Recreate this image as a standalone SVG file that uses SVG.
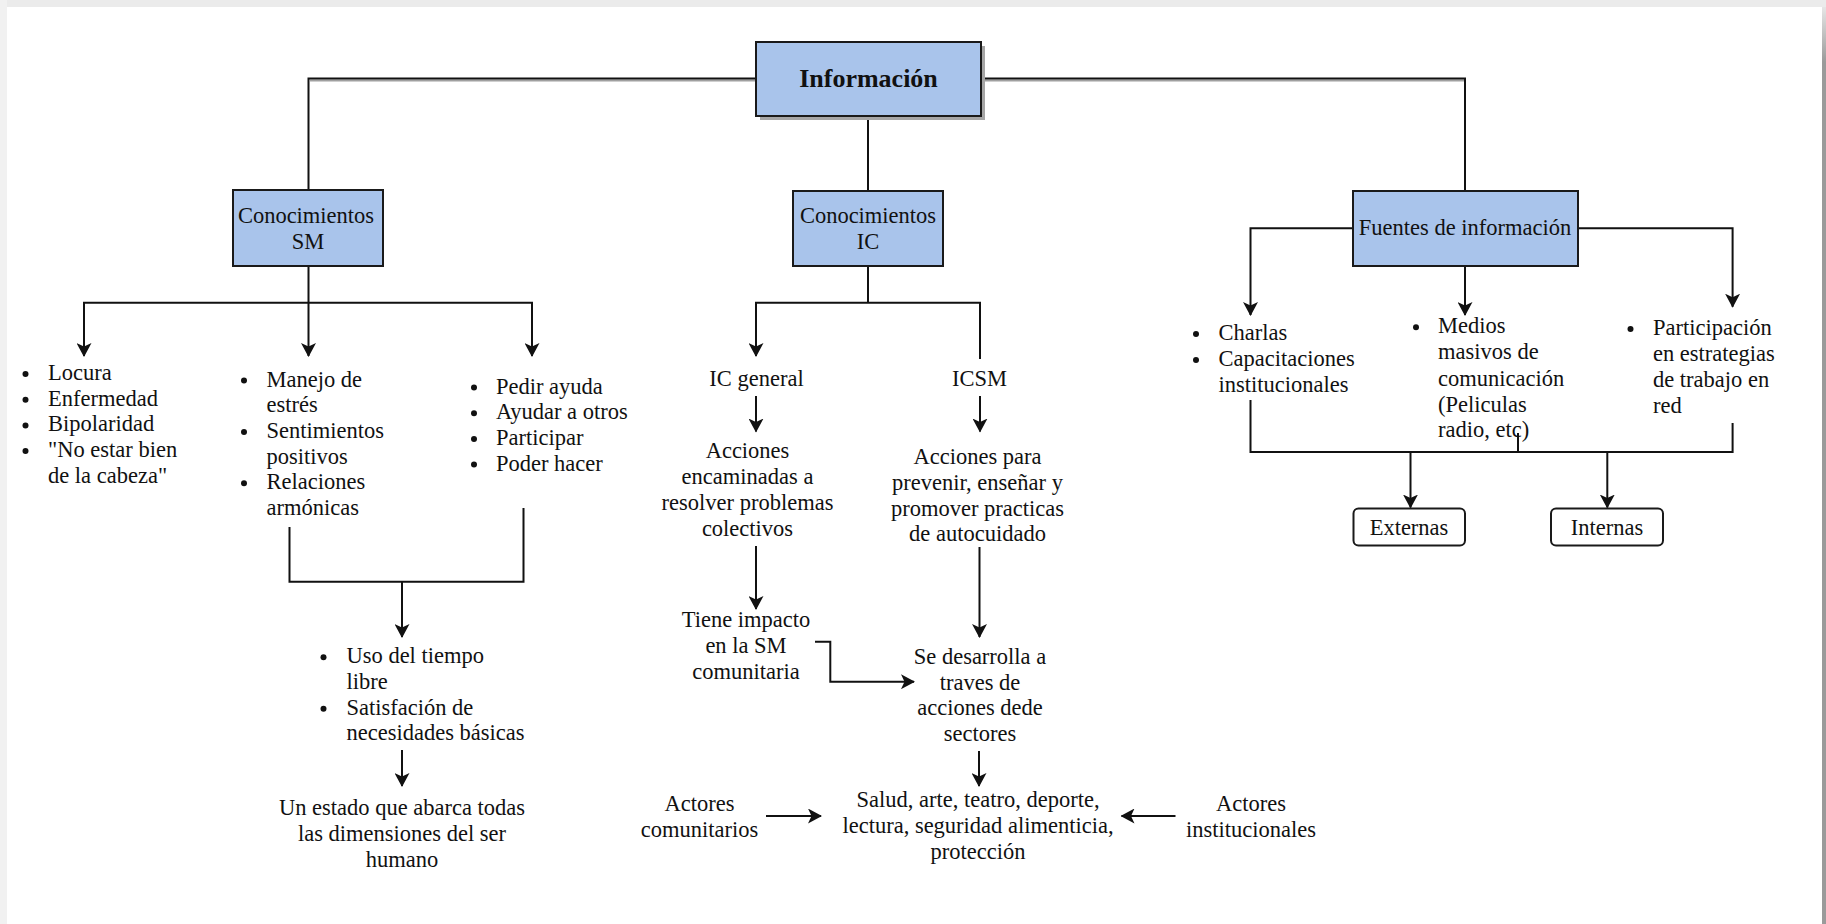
<svg xmlns="http://www.w3.org/2000/svg" width="1826" height="924" viewBox="0 0 1826 924">
  <defs>
    <style>
      .t { font-family: "Liberation Serif", "Times New Roman", serif; font-size: 22.5px; fill: #111; }
      .c { text-anchor: middle; }
      .box { fill: #a9c4eb; stroke: #1a1a1a; stroke-width: 2; }
      .leaf { fill: #fff; stroke: #1a1a1a; stroke-width: 2; }
      .ln { fill: none; stroke: #111; stroke-width: 2; }
      .arr { marker-end: url(#ah); }
      .dot { fill: #111; }
    </style>
    <marker id="ah" viewBox="0 0 14 15" refX="13" refY="7.5" markerWidth="14" markerHeight="15" markerUnits="userSpaceOnUse" orient="auto">
      <path d="M0,0 L14,7.5 L0,15 L3.5,7.5 z" fill="#111"/>
    </marker>
    <linearGradient id="edge" x1="0" y1="0" x2="0" y2="1">
      <stop offset="0" stop-color="#e6e6e6"/>
      <stop offset="0.06" stop-color="#9a9a9a"/>
      <stop offset="1" stop-color="#9a9a9a"/>
    </linearGradient>
  </defs>

  <!-- page -->
  <rect x="0" y="0" width="1826" height="924" fill="#fff"/>
  <rect x="0" y="0" width="1826" height="7" fill="#ebebeb"/>
  <rect x="0" y="0" width="7" height="924" fill="#f1f1f1"/>
  <rect x="1822" y="7" width="4" height="917" fill="url(#edge)"/>

  <!-- connectors -->
  <g id="connectors">
    <!-- from Información -->
    <path d="M310,80.5 H756 M983,80.5 H1465" stroke="#a0a0a0" stroke-width="2" fill="none"/>
    <path class="ln" d="M756,78.5 H308.5 V190"/>
    <path class="ln" d="M981,78.5 H1465 V191"/>
    <path class="ln" d="M868,116 V191"/>

    <!-- Conocimientos SM -->
    <path class="ln arr" d="M308.5,266 V356"/>
    <path class="ln arr" d="M308.5,302.7 H84 V356"/>
    <path class="ln arr" d="M308.5,302.7 H532 V356"/>
    <path class="ln" d="M289.5,527 V581.7 H523.5 V508"/>
    <path class="ln arr" d="M402,581.7 V637"/>
    <path class="ln arr" d="M402,750 V786"/>

    <!-- Conocimientos IC -->
    <path class="ln" d="M868,266 V302.7"/>
    <path class="ln arr" d="M868,302.7 H756 V356"/>
    <path class="ln" d="M868,302.7 H980 V359"/>
    <path class="ln arr" d="M756,396 V431.5"/>
    <path class="ln arr" d="M980,396 V431.5"/>
    <path class="ln arr" d="M756,546 V609"/>
    <path class="ln arr" d="M979.5,547 V637"/>
    <path class="ln arr" d="M815,641.7 H830.3 V681.7 H914"/>
    <path class="ln arr" d="M979,751 V786"/>
    <path class="ln arr" d="M766,816 H821"/>
    <path class="ln arr" d="M1175.5,816 H1121.5"/>

    <!-- Fuentes de información -->
    <path class="ln arr" d="M1353,228.3 H1250.5 V315"/>
    <path class="ln arr" d="M1465,266 V315"/>
    <path class="ln arr" d="M1578,228.3 H1732.6 V306.7"/>
    <path class="ln" d="M1250.5,400 V452 H1732.6 V423"/>
    <path class="ln" d="M1518,433 V452"/>
    <path class="ln arr" d="M1410.5,452 V507.5"/>
    <path class="ln arr" d="M1607.3,452 V507.5"/>
  </g>

  <!-- root -->
  <g id="informacion">
    <rect x="760" y="46" width="225" height="74" fill="#a6a6a6"/>
    <rect class="box" x="756" y="42" width="225" height="74"/>
    <text class="t c" x="868.5" y="87" style="font-weight:bold;font-size:26px">Información</text>
  </g>

  <!-- Conocimientos SM branch -->
  <g id="conocimientos-sm">
    <rect class="box" x="233" y="190" width="150" height="76"/>
    <text class="t c" x="306" y="223">Conocimientos</text>
    <text class="t c" x="308" y="249">SM</text>
  </g>

  <g id="sm-lista-1">
    <circle class="dot" cx="25.5" cy="374" r="3"/>
    <circle class="dot" cx="25.5" cy="399.7" r="3"/>
    <circle class="dot" cx="25.5" cy="425.4" r="3"/>
    <circle class="dot" cx="25.5" cy="451.1" r="3"/>
    <text class="t" x="48" y="380">Locura</text>
    <text class="t" x="48" y="405.7">Enfermedad</text>
    <text class="t" x="48" y="431.4">Bipolaridad</text>
    <text class="t" x="48" y="457.1">"No estar bien</text>
    <text class="t" x="48" y="482.8">de la cabeza"</text>
  </g>

  <g id="sm-lista-2">
    <circle class="dot" cx="244" cy="380.5" r="3"/>
    <circle class="dot" cx="244" cy="431.9" r="3"/>
    <circle class="dot" cx="244" cy="483.3" r="3"/>
    <text class="t" x="266.5" y="386.5">Manejo de</text>
    <text class="t" x="266.5" y="412.2">estrés</text>
    <text class="t" x="266.5" y="437.9">Sentimientos</text>
    <text class="t" x="266.5" y="463.6">positivos</text>
    <text class="t" x="266.5" y="489.3">Relaciones</text>
    <text class="t" x="266.5" y="515">armónicas</text>
  </g>

  <g id="sm-lista-3">
    <circle class="dot" cx="474" cy="387.5" r="3"/>
    <circle class="dot" cx="474" cy="413.2" r="3"/>
    <circle class="dot" cx="474" cy="438.9" r="3"/>
    <circle class="dot" cx="474" cy="464.6" r="3"/>
    <text class="t" x="496" y="393.5">Pedir ayuda</text>
    <text class="t" x="496" y="419.2">Ayudar a otros</text>
    <text class="t" x="496" y="444.9">Participar</text>
    <text class="t" x="496" y="470.6">Poder hacer</text>
  </g>

  <g id="sm-lista-4">
    <circle class="dot" cx="323.5" cy="657.3" r="3"/>
    <circle class="dot" cx="323.5" cy="708.7" r="3"/>
    <text class="t" x="346.5" y="663.3">Uso del tiempo</text>
    <text class="t" x="346.5" y="689">libre</text>
    <text class="t" x="346.5" y="714.7">Satisfación de</text>
    <text class="t" x="346.5" y="740.4">necesidades básicas</text>
  </g>

  <g id="sm-estado">
    <text class="t c" x="402" y="815">Un estado que abarca todas</text>
    <text class="t c" x="402" y="841">las dimensiones del ser</text>
    <text class="t c" x="402" y="867">humano</text>
  </g>

  <!-- Conocimientos IC branch -->
  <g id="conocimientos-ic">
    <rect class="box" x="793" y="191" width="150" height="75"/>
    <text class="t c" x="868" y="223">Conocimientos</text>
    <text class="t c" x="868" y="248.5">IC</text>
  </g>

  <g id="ic-general">
    <text class="t c" x="756.5" y="386">IC general</text>
  </g>
  <g id="icsm">
    <text class="t c" x="979.5" y="386">ICSM</text>
  </g>

  <g id="acciones-colectivas">
    <text class="t c" x="747.5" y="458">Acciones</text>
    <text class="t c" x="747.5" y="484">encaminadas a</text>
    <text class="t c" x="747.5" y="510">resolver problemas</text>
    <text class="t c" x="747.5" y="536">colectivos</text>
  </g>

  <g id="acciones-autocuidado">
    <text class="t c" x="977.5" y="463.5">Acciones para</text>
    <text class="t c" x="977.5" y="489.5">prevenir, enseñar y</text>
    <text class="t c" x="977.5" y="515.5">promover practicas</text>
    <text class="t c" x="977.5" y="541">de autocuidado</text>
  </g>

  <g id="impacto">
    <text class="t c" x="746" y="627">Tiene impacto</text>
    <text class="t c" x="746" y="653">en la SM</text>
    <text class="t c" x="746" y="679">comunitaria</text>
  </g>

  <g id="desarrollo">
    <text class="t c" x="980" y="663.5">Se desarrolla a</text>
    <text class="t c" x="980" y="689.5">traves de</text>
    <text class="t c" x="980" y="715">acciones dede</text>
    <text class="t c" x="980" y="741">sectores</text>
  </g>

  <g id="sectores">
    <text class="t c" x="978" y="807">Salud, arte, teatro, deporte,</text>
    <text class="t c" x="978" y="833">lectura, seguridad alimenticia,</text>
    <text class="t c" x="978" y="858.5">protección</text>
  </g>

  <g id="actores-comunitarios">
    <text class="t c" x="699.5" y="811">Actores</text>
    <text class="t c" x="699.5" y="836.5">comunitarios</text>
  </g>

  <g id="actores-institucionales">
    <text class="t c" x="1251" y="811">Actores</text>
    <text class="t c" x="1251" y="836.5">institucionales</text>
  </g>

  <!-- Fuentes de información branch -->
  <g id="fuentes">
    <rect class="box" x="1353" y="191" width="225" height="75"/>
    <text class="t c" x="1465" y="235">Fuentes de información</text>
  </g>

  <g id="fuentes-lista-1">
    <circle class="dot" cx="1196" cy="334" r="3"/>
    <circle class="dot" cx="1196" cy="360" r="3"/>
    <text class="t" x="1218.5" y="340">Charlas</text>
    <text class="t" x="1218.5" y="366">Capacitaciones</text>
    <text class="t" x="1218.5" y="391.7">institucionales</text>
  </g>

  <g id="fuentes-lista-2">
    <circle class="dot" cx="1416" cy="327.3" r="3"/>
    <text class="t" x="1438" y="333.3">Medios</text>
    <text class="t" x="1438" y="359.3">masivos de</text>
    <text class="t" x="1438" y="385.5">comunicación</text>
    <text class="t" x="1438" y="411.5">(Peliculas</text>
    <text class="t" x="1438" y="437">radio, etc)</text>
  </g>

  <g id="fuentes-lista-3">
    <circle class="dot" cx="1630.5" cy="329" r="3"/>
    <text class="t" x="1653" y="335">Participación</text>
    <text class="t" x="1653" y="361">en estrategias</text>
    <text class="t" x="1653" y="387">de trabajo en</text>
    <text class="t" x="1653" y="413">red</text>
  </g>

  <g id="externas">
    <rect class="leaf" x="1353.5" y="508.5" width="111.5" height="37" rx="5"/>
    <text class="t c" x="1409" y="535">Externas</text>
  </g>

  <g id="internas">
    <rect class="leaf" x="1551" y="508.5" width="112" height="37" rx="5"/>
    <text class="t c" x="1607" y="535">Internas</text>
  </g>
</svg>
